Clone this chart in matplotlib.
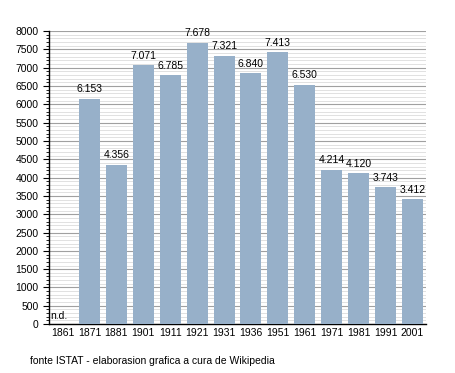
import matplotlib.pyplot as plt
from matplotlib.ticker import MultipleLocator

anni = ['1861', '1871', '1881', '1901', '1911', '1921', '1931', '1936',
        '1951', '1961', '1971', '1981', '1991', '2001']
abitanti = [0, 6153, 4356, 7071, 6785, 7678, 7321, 6840,
            7413, 6530, 4214, 4120, 3743, 3412]
etichette = ['n.d.', '6.153', '4.356', '7.071', '6.785', '7.678', '7.321', '6.840',
             '7.413', '6.530', '4.214', '4.120', '3.743', '3.412']

plt.rcParams['font.family'] = ['Liberation Sans', 'DejaVu Sans']
fig = plt.figure(figsize=(4.55, 3.73), dpi=100)
ax = fig.add_axes([0.108, 0.131, 0.828, 0.786])

x = list(range(len(anni)))
ax.bar(x, abitanti, width=0.78, color='#97b0c9', zorder=3)
for i, v in enumerate(abitanti):
    if i == 0:
        ax.text(i - 0.45, 80, etichette[i], ha='left', va='bottom', fontsize=7.5)
    else:
        ax.text(i, v + 120, etichette[i], ha='center', va='bottom', fontsize=7.5)

ax.set_xlim(-0.5, len(anni) - 0.5)
ax.set_ylim(0, 8000)
ax.set_xticks(x)
ax.set_xticklabels(anni, fontsize=7.5)
ax.yaxis.set_major_locator(MultipleLocator(500))
ax.yaxis.set_minor_locator(MultipleLocator(100))
ax.tick_params(axis='y', labelsize=7.5, length=4, width=0.8)
ax.tick_params(axis='y', which='minor', length=2, width=0.6)
ax.tick_params(axis='x', length=0, pad=3)
ax.grid(axis='y', which='major', color='#a0a0a0', linewidth=0.8, zorder=0)
ax.grid(axis='y', which='minor', color='#dcdcdc', linewidth=0.6, zorder=0)
for s in ['top', 'right']:
    ax.spines[s].set_visible(False)
ax.spines['left'].set_linewidth(1)
ax.spines['bottom'].set_linewidth(1)

fig.text(0.066, 0.025, 'fonte ISTAT - elaborasion grafica a cura de Wikipedia', fontsize=7.5)

plt.savefig('out.png', dpi=100)
